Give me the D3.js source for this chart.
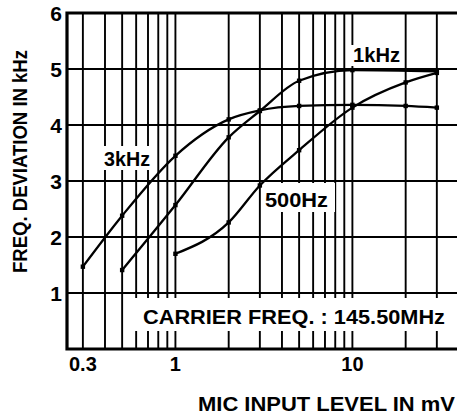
<!DOCTYPE html>
<html>
<head>
<meta charset="utf-8">
<script src="https://cdn.jsdelivr.net/npm/d3@7"></script>
<style>
  html, body { margin: 0; padding: 0; background: #fff; }
  svg { display: block; }
</style>
</head>
<body>
<div id="chart"></div>
<script>
// grid / tick data
const xGrid = [0.3, 0.4, 0.5, 0.6, 0.7, 0.8, 0.9, 1, 2, 3, 4, 5, 6, 7, 8, 9, 10, 20, 30];
const xTickLabels = [0.3, 1, 10];
const yTicks = [1, 2, 3, 4, 5, 6];

// curves (mV -> kHz)
const x3k = [0.3, 0.5, 1, 2, 3, 5, 10, 20, 30];
const dev3k = [1.47, 2.38, 3.45, 4.1, 4.26, 4.34, 4.36, 4.34, 4.31];
const x1k = [0.5, 1, 2, 3, 5, 10, 30];
const dev1k = [1.41, 2.57, 3.78, 4.25, 4.79, 4.98, 4.96];
const x500 = [1, 2, 3, 5, 10, 20, 30];
const dev500 = [1.7, 2.26, 2.92, 3.55, 4.31, 4.76, 4.93];

const seriesNames = ['3kHz', '1kHz', '500Hz'];

const W = 457, H = 417;
const font = '"Liberation Sans", Arial, sans-serif';

const svg = d3.select('#chart').append('svg')
  .attr('width', W).attr('height', H);

const x = d3.scaleLog().domain([0.244, 39]).range([67, 457]);
const y = d3.scaleLinear().domain([0, 6]).range([349, 13]);

// gridlines
const grid = svg.append('g').attr('stroke', '#000').attr('stroke-width', 1.9);
grid.selectAll('line.v')
  .data(xGrid)
  .enter().append('line')
    .attr('class', 'v')
    .attr('x1', d => x(d)).attr('x2', d => x(d))
    .attr('y1', y(6)).attr('y2', y(0));
grid.selectAll('line.h')
  .data(yTicks)
  .enter().append('line')
    .attr('class', 'h')
    .attr('x1', x.range()[0]).attr('x2', x.range()[1])
    .attr('y1', d => y(d)).attr('y2', d => y(d));

// white boxes behind labels
const boxes = [
  { x: 130, y: 298, w: 330, h: 33 },   // carrier note
  { x: 101, y: 146, w: 55, h: 24 },    // 3kHz
  { x: 350, y: 45, w: 53, h: 21 },     // 1kHz
  { x: 262, y: 183, w: 73, h: 29 }     // 500Hz
];
svg.append('g').selectAll('rect')
  .data(boxes)
  .enter().append('rect')
    .attr('x', d => d.x).attr('y', d => d.y)
    .attr('width', d => d.w).attr('height', d => d.h)
    .attr('fill', '#fff');

// curves
const series = [
  { xs: x3k, ys: dev3k },
  { xs: x1k, ys: dev1k },
  { xs: x500, ys: dev500 }
].map((s, i) => ({ name: seriesNames[i], pts: s.xs.map((v, j) => [v, s.ys[j]]) }));

const line = d3.line()
  .x(d => x(d[0]))
  .y(d => y(d[1]))
  .curve(d3.curveMonotoneX);

svg.append('g').selectAll('path')
  .data(series)
  .enter().append('path')
    .attr('d', d => line(d.pts))
    .attr('fill', 'none')
    .attr('stroke', '#000')
    .attr('stroke-width', 2.3);

svg.append('g').selectAll('rect')
  .data(series.flatMap(s => s.pts))
  .enter().append('rect')
    .attr('x', d => x(d[0]) - 2.2)
    .attr('y', d => y(d[1]) - 2.2)
    .attr('width', 4.4).attr('height', 4.4)
    .attr('fill', '#000');

// frame: top, left, bottom heavy
svg.append('path')
  .attr('d', `M${x.range()[1]},${y(6)}H${x.range()[0]}V${y(0)}H${x.range()[1]}`)
  .attr('fill', 'none')
  .attr('stroke', '#000')
  .attr('stroke-width', 3.2);

// labels
const txt = (t, px, py, opts = {}) => svg.append('text')
  .attr('x', px).attr('y', py)
  .attr('font-family', font)
  .attr('font-weight', 'bold')
  .attr('font-size', opts.size || 20)
  .attr('text-anchor', opts.anchor || 'start')
  .attr('fill', '#000')
  .attr('textLength', opts.len || null)
  .attr('lengthAdjust', opts.len ? 'spacingAndGlyphs' : null)
  .attr('transform', opts.rotate ? `rotate(-90,${px},${py})` : null)
  .text(t);

txt(seriesNames[0], 104, 166, { size: 21, len: 46 });
txt(seriesNames[1], 353, 62, { size: 20, len: 47 });
txt(seriesNames[2], 265, 207, { size: 21, len: 63 });
txt('CARRIER FREQ. : 145.50MHz', 143, 324, { size: 21, len: 302 });

// y tick labels
svg.append('g').selectAll('text')
  .data(yTicks)
  .enter().append('text')
    .attr('x', 62)
    .attr('y', d => y(d) + 7.5)
    .attr('text-anchor', 'end')
    .attr('font-family', font)
    .attr('font-weight', 'bold')
    .attr('font-size', 21)
    .text(d => d);

// x tick labels
svg.append('g').selectAll('text')
  .data(xTickLabels)
  .enter().append('text')
    .attr('x', d => x(d))
    .attr('y', 371)
    .attr('text-anchor', 'middle')
    .attr('font-family', font)
    .attr('font-weight', 'bold')
    .attr('font-size', 20)
    .text(d => d);

// axis titles
txt('MIC INPUT LEVEL IN mV', 455, 411, { size: 21, anchor: 'end', len: 257 });
txt('FREQ. DEVIATION IN kHz', 27, 161.5, { size: 21, anchor: 'middle', len: 223, rotate: true });
</script>
</body>
</html>
